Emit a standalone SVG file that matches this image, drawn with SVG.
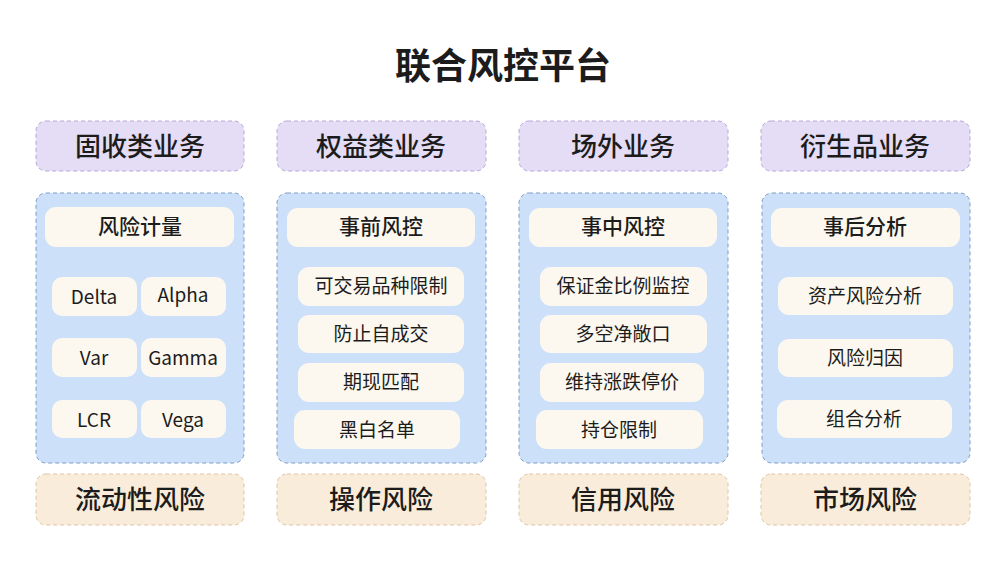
<svg xmlns="http://www.w3.org/2000/svg" width="1008" height="573" viewBox="0 0 1008 573">
<style>
text{font-family:"Noto Sans CJK SC","Noto Sans",sans-serif;fill:#1c1c1c;text-anchor:middle;dominant-baseline:central}
.title{font-size:36px;font-weight:700}
.cat{fill:#e5ddf5;stroke:#b3a8d6;stroke-width:1;stroke-dasharray:4 3}
.panel{fill:#cde0fa;stroke:#7e9cc4;stroke-width:1;stroke-dasharray:4 3}
.risk{fill:#f9ecda;stroke:#dcc6a2;stroke-width:1;stroke-dasharray:4 3}
.item{fill:#fcf8ef}
.lab{font-size:26px;font-weight:500}
.hd{font-size:21px;font-weight:500}
.it{font-size:19px}
</style>
<rect width="1008" height="573" fill="#ffffff"/>
<text class="title" x="503" y="63">联合风控平台</text>

<g id="col1">
<rect class="cat" x="36" y="121" width="208" height="50" rx="10"/>
<text class="lab" x="140" y="144">固收类业务</text>
<rect class="panel" x="36" y="193" width="208" height="270" rx="10"/>
<rect class="item" x="45" y="207" width="189" height="40" rx="11"/>
<text class="hd" x="140" y="225">风险计量</text>
<rect class="item" x="52" y="277" width="85" height="39" rx="10"/>
<text class="it" x="94" y="295">Delta</text>
<rect class="item" x="141" y="277" width="85" height="39" rx="10"/>
<text class="it" x="183" y="293">Alpha</text>
<rect class="item" x="52" y="338" width="85" height="39" rx="10"/>
<text class="it" x="94" y="356">Var</text>
<rect class="item" x="141" y="338" width="85" height="39" rx="10"/>
<text class="it" x="183" y="356">Gamma</text>
<rect class="item" x="52" y="400" width="85" height="38" rx="10"/>
<text class="it" x="94" y="418">LCR</text>
<rect class="item" x="141" y="400" width="85" height="38" rx="10"/>
<text class="it" x="183" y="418">Vega</text>
<rect class="risk" x="36" y="474" width="208" height="51" rx="10"/>
<text class="lab" x="140" y="497">流动性风险</text>
</g>

<g id="col2">
<rect class="cat" x="277" y="121" width="209" height="50" rx="10"/>
<text class="lab" x="381" y="144">权益类业务</text>
<rect class="panel" x="277" y="193" width="209" height="270" rx="10"/>
<rect class="item" x="287" y="208" width="188" height="39" rx="11"/>
<text class="hd" x="381" y="225">事前风控</text>
<rect class="item" x="298" y="267" width="166" height="39" rx="11"/>
<text class="it" x="381" y="284">可交易品种限制</text>
<rect class="item" x="298" y="315" width="166" height="38" rx="11"/>
<text class="it" x="381" y="332">防止自成交</text>
<rect class="item" x="298" y="363" width="166" height="39" rx="11"/>
<text class="it" x="381" y="380">期现匹配</text>
<rect class="item" x="294" y="410" width="166" height="39" rx="11"/>
<text class="it" x="377" y="428">黑白名单</text>
<rect class="risk" x="277" y="474" width="209" height="51" rx="10"/>
<text class="lab" x="381" y="497">操作风险</text>
</g>

<g id="col3">
<rect class="cat" x="519" y="121" width="209" height="50" rx="10"/>
<text class="lab" x="623" y="144">场外业务</text>
<rect class="panel" x="519" y="193" width="209" height="270" rx="10"/>
<rect class="item" x="529" y="208" width="188" height="39" rx="11"/>
<text class="hd" x="623" y="225">事中风控</text>
<rect class="item" x="540" y="267" width="167" height="39" rx="11"/>
<text class="it" x="623" y="284">保证金比例监控</text>
<rect class="item" x="540" y="315" width="167" height="38" rx="11"/>
<text class="it" x="623" y="332">多空净敞口</text>
<rect class="item" x="540" y="363" width="164" height="39" rx="11"/>
<text class="it" x="622" y="380">维持涨跌停价</text>
<rect class="item" x="536" y="410" width="167" height="39" rx="11"/>
<text class="it" x="619" y="428">持仓限制</text>
<rect class="risk" x="519" y="474" width="209" height="51" rx="10"/>
<text class="lab" x="623" y="497">信用风险</text>
</g>

<g id="col4">
<rect class="cat" x="761" y="121" width="209" height="50" rx="10"/>
<text class="lab" x="865" y="144">衍生品业务</text>
<rect class="panel" x="762" y="193" width="208" height="270" rx="10"/>
<rect class="item" x="771" y="208" width="189" height="39" rx="11"/>
<text class="hd" x="865" y="225">事后分析</text>
<rect class="item" x="778" y="277" width="175" height="38" rx="11"/>
<text class="it" x="865" y="294">资产风险分析</text>
<rect class="item" x="778" y="339" width="175" height="38" rx="11"/>
<text class="it" x="865" y="356">风险归因</text>
<rect class="item" x="777" y="400" width="175" height="38" rx="11"/>
<text class="it" x="864" y="417">组合分析</text>
<rect class="risk" x="761" y="474" width="209" height="51" rx="10"/>
<text class="lab" x="865" y="497">市场风险</text>
</g>

<g id="connectors"></g>
</svg>
